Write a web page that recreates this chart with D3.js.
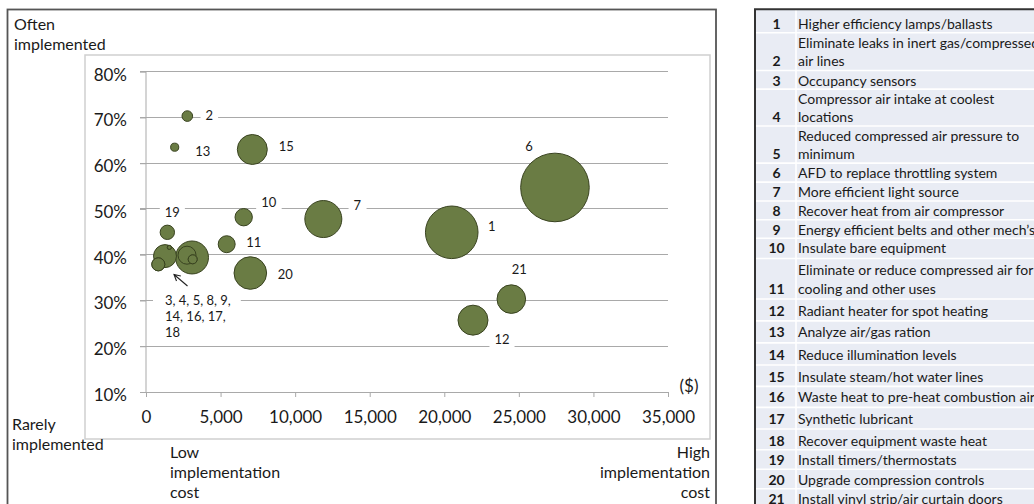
<!DOCTYPE html>
<html>
<head>
<meta charset="utf-8">
<script src="https://cdn.jsdelivr.net/npm/d3@7"></script>
<style>
  html, body { margin: 0; padding: 0; background: #fff; }
  svg { display: block; font-family: Lato, "Open Sans", sans-serif; }
</style>
</head>
<body>
<svg id="chart" width="1034" height="504"></svg>
<script>
// ---- Data -------------------------------------------------------------
const measureIds = [1, 2, 3, 4, 5, 6, 7, 8, 9, 10, 11, 12, 13, 14, 15, 16, 17, 18, 19, 20, 21];
const measureNames = [
  "Higher efficiency lamps/ballasts",
  "Eliminate leaks in inert gas/compressed air lines",
  "Occupancy sensors",
  "Compressor air intake at coolest locations",
  "Reduced compressed air pressure to minimum",
  "AFD to replace throttling system",
  "More efficient light source",
  "Recover heat from air compressor",
  "Energy efficient belts and other mech\u2019s",
  "Insulate bare equipment",
  "Eliminate or reduce compressed air for cooling and other uses",
  "Radiant heater for spot heating",
  "Analyze air/gas ration",
  "Reduce illumination levels",
  "Insulate steam/hot water lines",
  "Waste heat to pre-heat combustion air",
  "Synthetic lubricant",
  "Recover equipment waste heat",
  "Install timers/thermostats",
  "Upgrade compression controls",
  "Install vinyl strip/air curtain doors"
];
// Table wording split into lines as printed
const measureLines = [
  ["Higher efficiency lamps/ballasts"],
  ["Eliminate leaks in inert gas/compressed", "air lines"],
  ["Occupancy sensors"],
  ["Compressor air intake at coolest", "locations"],
  ["Reduced compressed air pressure to", "minimum"],
  ["AFD to replace throttling system"],
  ["More efficient light source"],
  ["Recover heat from air compressor"],
  ["Energy efficient belts and other mech\u2019s"],
  ["Insulate bare equipment"],
  ["Eliminate or reduce compressed air for", "cooling and other uses"],
  ["Radiant heater for spot heating"],
  ["Analyze air/gas ration"],
  ["Reduce illumination levels"],
  ["Insulate steam/hot water lines"],
  ["Waste heat to pre-heat combustion air"],
  ["Synthetic lubricant"],
  ["Recover equipment waste heat"],
  ["Install timers/thermostats"],
  ["Upgrade compression controls"],
  ["Install vinyl strip/air curtain doors"]
];
// Implementation cost ($)
const costUSD = [20500, 2770, 3085, 1274, 2750, 27420, 11890, 825, 3130, 6550, 5410,
                 21925, 1924, 1565, 7128, 3130, 1565, 825, 1430, 6995, 24494];
// Share of cases where the measure was implemented (%)
const implementedPct = [44.9, 70.3, 39.4, 39.7, 39.9, 54.7, 47.8, 37.9, 39.0, 48.2, 42.3,
                        25.7, 63.5, 41.6, 63.0, 39.0, 41.6, 37.9, 44.9, 36.0, 30.3];
// Bubble size value (area-proportional)
const bubbleSize = [58.8, 2.4, 23.1, 11.2, 6.9, 100, 29.1, 3.6, 1.7, 6.4, 6.1,
                    19.1, 1.4, 0.34, 19.1, 1.7, 0.34, 3.6, 4.4, 22.6, 17.4];
// Measures too crowded to label one by one
const clusterIds = [3, 4, 5, 8, 9, 14, 16, 17, 18];
const clusterLabelLines = ["3, 4, 5, 8, 9,", "14, 16, 17,", "18"];

const yTicks = [10, 20, 30, 40, 50, 60, 70, 80];
const xTicks = [0, 5000, 10000, 15000, 20000, 25000, 30000, 35000];

// ---- Layout -------------------------------------------------------------
// label placement relative to bubble centre (dx, dy)
const labelOffset = {
  1: [40, -6], 2: [22, -1], 6: [-26, -41], 7: [34, -14], 10: [25, -15], 11: [27, -2.5],
  12: [29, 19], 13: [28, 4], 15: [34, -3], 19: [5, -20.5], 20: [35, 1.3], 21: [8, -30]
};
// first text line centre of each table row
const rowFirstLineY = [23.3, 42.3, 80, 98.3, 135, 172.7, 191.5, 210.5, 229, 247.5, 269.5,
                       310, 331.7, 354, 376, 396.7, 418, 440, 459.5, 479, 498.5];
const linePitch = 18.6;

const svg = d3.select("#chart");
const FILL = "#6a7c44", STROKE = "#394320", GRID = "#a9a9a9", TXT = "#1a1a1a";

// Outer frame and plot frame
svg.append("rect").attr("x", 7.5).attr("y", 9.5).attr("width", 708.5).attr("height", 530)
  .attr("fill", "none").attr("stroke", "#555").attr("stroke-width", 1.8);
svg.append("rect").attr("x", 85).attr("y", 55).attr("width", 625).attr("height", 384)
  .attr("fill", "none").attr("stroke", "#cfcfcf").attr("stroke-width", 1.5);

const x = d3.scaleLinear().domain([0, 35000]).range([146, 668]);
const y = d3.scaleLinear().domain([10, 80]).range([392, 71.7]);
const r = d3.scaleSqrt().domain([0, 100]).range([0, 34.3]);

// Gridlines
svg.append("g").selectAll("line").data(yTicks.slice(1)).join("line")
  .attr("x1", 140).attr("x2", x(35000))
  .attr("y1", d => y(d)).attr("y2", d => y(d))
  .attr("stroke", GRID).attr("stroke-width", 1).attr("shape-rendering", "crispEdges");

// Y axis
const yAxis = svg.append("g").attr("transform", `translate(${x(0)},0)`)
  .call(d3.axisLeft(y).tickValues(yTicks).tickSize(6).tickSizeOuter(0).tickFormat(d => d + "%"));
yAxis.select(".domain").attr("stroke", GRID).attr("d", `M0,${y(10)}V${y(80)}`);
yAxis.selectAll(".tick line").attr("stroke", GRID);
yAxis.selectAll(".tick text").attr("x", -19).attr("dy", "0.5em")
  .attr("font-size", 17).attr("fill", TXT).attr("font-family", "Lato, sans-serif");

// X axis
const xAxis = svg.append("g").attr("transform", `translate(0,${y(10)})`)
  .call(d3.axisBottom(x).tickValues(xTicks).tickSize(5).tickSizeOuter(0).tickFormat(d3.format(",")));
xAxis.select(".domain").attr("stroke", GRID);
xAxis.selectAll(".tick line").attr("stroke", GRID);
xAxis.selectAll(".tick text").attr("y", 31).attr("dy", 0)
  .attr("font-size", 17).attr("fill", TXT).attr("font-family", "Lato, sans-serif");

// Bubbles: larger ones behind smaller ones
const points = measureIds.map((id, i) => ({
  id, name: measureNames[i], cost: costUSD[i], pct: implementedPct[i], size: bubbleSize[i]
}));
svg.append("g").selectAll("circle")
  .data(points.slice().sort((a, b) => b.size - a.size)).join("circle")
  .attr("cx", d => x(d.cost)).attr("cy", d => y(d.pct)).attr("r", d => r(d.size))
  .attr("fill", FILL).attr("stroke", STROKE).attr("stroke-width", 1);

// Data labels with white backing
const labelG = svg.append("g").attr("font-size", 13).attr("fill", TXT);
points.filter(d => !clusterIds.includes(d.id)).forEach(d => {
  const [dx, dy] = labelOffset[d.id];
  const g = labelG.append("g");
  const t = g.append("text").attr("x", x(d.cost) + dx).attr("y", y(d.pct) + dy)
    .attr("text-anchor", "middle").attr("dominant-baseline", "central").text(d.id);
  const b = t.node().getBBox();
  g.insert("rect", "text").attr("x", b.x - 5).attr("y", b.y - 1)
    .attr("width", b.width + 10).attr("height", b.height + 2).attr("fill", "#fff");
});

// Cluster label and arrow
{
  const g = labelG.append("g");
  const t = g.append("text").attr("x", 165).attr("y", 300);
  clusterLabelLines.forEach((s, i) => {
    t.append("tspan").attr("x", 165).attr("y", 300 + i * 15.8)
      .attr("dominant-baseline", "central").text(s);
  });
  const b = t.node().getBBox();
  g.insert("rect", "text").attr("x", b.x - 12).attr("y", b.y - 2)
    .attr("width", b.width + 22).attr("height", b.height + 4).attr("fill", "#fff");
  const x1 = 187.5, y1 = 286, x2 = 174, y2 = 274.5;
  const ang = Math.atan2(y1 - y2, x1 - x2), L = 7;
  g.append("path")
    .attr("d", `M${x1},${y1}L${x2},${y2}` +
      `M${x2 + L * Math.cos(ang - 0.5)},${y2 + L * Math.sin(ang - 0.5)}L${x2},${y2}` +
      `L${x2 + L * Math.cos(ang + 0.5)},${y2 + L * Math.sin(ang + 0.5)}`)
    .attr("fill", "none").attr("stroke", "#222").attr("stroke-width", 1.1);
}

// Corner captions
const cap = svg.append("g").attr("font-size", 16).attr("fill", TXT);
[["Often", 14, 30], ["implemented", 14, 50], ["Rarely", 12, 430], ["implemented", 12, 450],
 ["Low", 170, 458], ["implementation", 170, 478], ["cost", 170, 498]]
  .forEach(([s, px, py]) => cap.append("text").attr("x", px).attr("y", py).text(s));
[["High", 458], ["implementation", 478], ["cost", 498]]
  .forEach(([s, py]) => cap.append("text").attr("x", 710).attr("y", py)
    .attr("text-anchor", "end").text(s));
svg.append("text").attr("x", 689).attr("y", 392).attr("text-anchor", "middle")
  .attr("font-size", 17).attr("fill", TXT).text("($)");

// ---- Key table -----------------------------------------------------------
const tbl = svg.append("g");
const tLeft = 755, tTop = 9.3, colDiv = 796;
tbl.append("rect").attr("x", tLeft).attr("y", tTop).attr("width", 1034 - tLeft).attr("height", 504 - tTop)
  .attr("fill", "#e9ecf4");
// row separators
measureIds.forEach((id, i) => {
  if (i === 0) return;
  const prevLast = rowFirstLineY[i - 1] + (measureLines[i - 1].length - 1) * linePitch;
  const yy = (prevLast + rowFirstLineY[i]) / 2;
  tbl.append("line").attr("x1", tLeft).attr("x2", 1034).attr("y1", yy).attr("y2", yy)
    .attr("stroke", "#fff").attr("stroke-width", 1.6);
});
tbl.append("line").attr("x1", colDiv).attr("x2", colDiv).attr("y1", tTop).attr("y2", 504)
  .attr("stroke", "#fff").attr("stroke-width", 1.6);
tbl.append("path").attr("d", `M${tLeft},504V${tTop}H1034`)
  .attr("fill", "none").attr("stroke", "#333").attr("stroke-width", 2);

measureIds.forEach((id, i) => {
  const lines = measureLines[i];
  const lastY = rowFirstLineY[i] + (lines.length - 1) * linePitch;
  tbl.append("text").attr("x", 776.5).attr("y", lastY).attr("text-anchor", "middle")
    .attr("dominant-baseline", "central").attr("font-weight", "bold")
    .attr("font-size", 14).attr("fill", TXT).text(id);
  lines.forEach((s, k) => {
    tbl.append("text").attr("x", 798).attr("y", rowFirstLineY[i] + k * linePitch)
      .attr("dominant-baseline", "central").attr("font-size", 14).attr("fill", TXT).text(s);
  });
});
</script>
</body>
</html>
